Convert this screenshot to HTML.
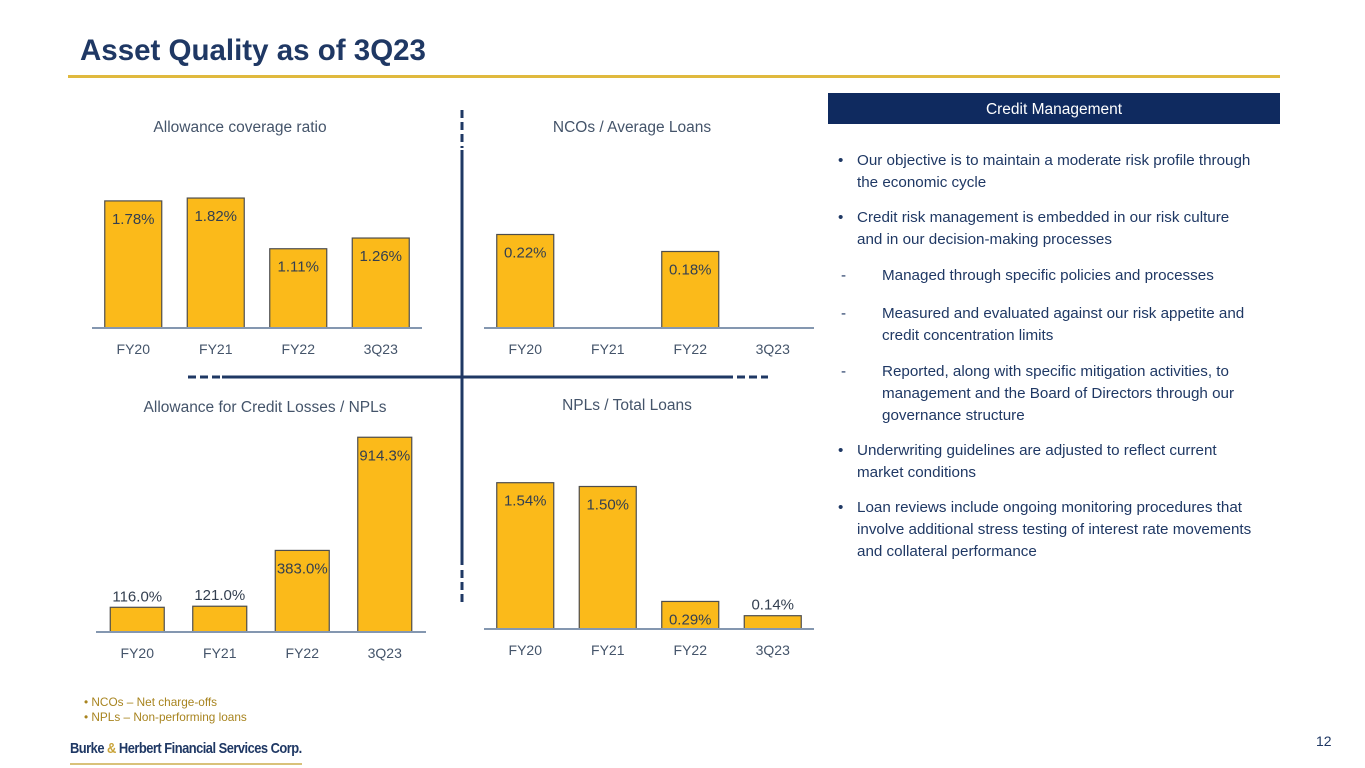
<!DOCTYPE html>
<html><head><meta charset="utf-8">
<style>
body{margin:0;width:1365px;height:768px;overflow:hidden;background:#fff;font-family:"Liberation Sans",sans-serif;position:relative}
.t{position:absolute;white-space:nowrap}
.b{position:absolute;left:857px;font-size:15.2px;color:#1f3864;line-height:22px;letter-spacing:0px;white-space:nowrap}
.dot{position:absolute;left:-19px}
.dash{position:absolute;left:-19px}
</style></head><body>
<div class="t" style="left:80px;top:34px;font-size:29.5px;font-weight:bold;color:#1f3864">Asset Quality as of 3Q23</div>
<div style="position:absolute;left:68px;top:75px;width:1212px;height:3px;background:#e0b93e"></div>

<svg width="1365" height="768" style="position:absolute;left:0;top:0">
<g stroke="#1f3864" stroke-width="3">
<line x1="462" y1="150" x2="462" y2="565"/>
<line x1="462" y1="110" x2="462" y2="148" stroke-dasharray="8,4"/>
<line x1="462" y1="570" x2="462" y2="605" stroke-dasharray="8,4"/>
<line x1="222" y1="377" x2="733" y2="377"/>
<line x1="188" y1="377" x2="220" y2="377" stroke-dasharray="8,4"/>
<line x1="737" y1="377" x2="768" y2="377" stroke-dasharray="8,4"/>
</g>
<g id="charts"></g>
</svg>

<div style="position:absolute;left:828px;top:93px;width:452px;height:31px;background:#0f2a5f;color:#fff;font-size:15.5px;text-align:center;line-height:33px">Credit Management</div>

<div class="b" style="top:150px"><span class="dot">•</span>Our objective is to maintain a moderate risk profile through<br>the economic cycle</div>
<div class="b" style="top:207px"><span class="dot">•</span>Credit risk management is embedded in our risk culture<br>and in our decision-making processes</div>
<div class="b" style="top:265px;left:882px"><span class="dash" style="left:-41px">-</span>Managed through specific policies and processes</div>
<div class="b" style="top:303px;left:882px"><span class="dash" style="left:-41px">-</span>Measured and evaluated against our risk appetite and<br>credit concentration limits</div>
<div class="b" style="top:361px;left:882px"><span class="dash" style="left:-41px">-</span>Reported, along with specific mitigation activities, to<br>management and the Board of Directors through our<br>governance structure</div>
<div class="b" style="top:440px"><span class="dot">•</span>Underwriting guidelines are adjusted to reflect current<br>market conditions</div>
<div class="b" style="top:497px"><span class="dot">•</span>Loan reviews include ongoing monitoring procedures that<br>involve additional stress testing of interest rate movements<br>and collateral performance</div>

<div class="t" style="left:84px;top:695px;font-size:11.8px;color:#a8841f">• NCOs – Net charge-offs</div>
<div class="t" style="left:84px;top:710px;font-size:11.8px;color:#a8841f">• NPLs – Non-performing loans</div>
<div class="t" style="left:70px;top:740px;font-size:15px;font-weight:bold;color:#1f3864;letter-spacing:-0.6px;transform:scaleX(0.86);transform-origin:left top">Burke <span style="color:#c9a43a">&amp;</span> Herbert Financial Services Corp.</div>
<div style="position:absolute;left:70px;top:763px;width:232px;height:2px;background:#d9c27a"></div>
<div class="t" style="left:1316px;top:733px;font-size:14px;color:#1f3864">12</div>

<script>
const categories = ["FY20","FY21","FY22","3Q23"];
const allowanceValues = [1.78,1.82,1.11,1.26];
const allowanceLabels = ["1.78%","1.82%","1.11%","1.26%"];
const ncoValues = [0.22,0,0.18,0];
const ncoLabels = ["0.22%","","0.18%",""];
const aclNplValues = [116.0,121.0,383.0,914.3];
const aclNplLabels = ["116.0%","121.0%","383.0%","914.3%"];
const nplValues = [1.54,1.50,0.29,0.14];
const nplLabels = ["1.54%","1.50%","0.29%","0.14%"];

const NS="http://www.w3.org/2000/svg";
const root=document.getElementById('charts');
function mk(tag,attrs,parent){const e=document.createElementNS(NS,tag);for(const k in attrs)e.setAttribute(k,attrs[k]);parent.appendChild(e);return e;}

function chart(cfg){
  const g=mk('g',{},root);
  
  
  const title=mk('text',{x:cfg.tx,y:cfg.ty,'text-anchor':'middle','font-size':15.5,fill:'#44546a'},g);
  title.textContent=cfg.title;
  
  
  const step=(cfg.x1-cfg.x0)/categories.length;
  const y=v=>cfg.base - v*cfg.scale;
  cfg.values.forEach((v,i)=>{
    const cx=cfg.x0+step*(i+0.5);
    const bw=cfg.bw;
    const h=cfg.base-y(v);
    if(v>0){
      const r=mk('rect',{x:cx-bw/2,y:y(v),width:bw,height:h,fill:'#fbba1a',stroke:'#4d4d4d','stroke-width':1.2},g);
      
      
    }
    if(cfg.labels[i]){
      const inside=h>26;
      const lt=mk('text',{x:cx,y:inside?y(v)+23:y(v)-6,'text-anchor':'middle','font-size':15,fill:'#333f50'},g);
      lt.textContent=cfg.labels[i];
      
      
    }
    const ct=mk('text',{x:cx,y:cfg.base+26,'text-anchor':'middle','font-size':14,fill:'#44546a'},g);
    ct.textContent=categories[i];
    
    
  });
  const ax=mk('line',{x1:cfg.x0,y1:cfg.base,x2:cfg.x1,y2:cfg.base,stroke:'#8497b0','stroke-width':2},g);
  
  
}
chart({name:'allowance-coverage-chart',title:'Allowance coverage ratio',tx:240,ty:132,x0:92,x1:422,base:328,scale:71.4,bw:57,values:allowanceValues,labels:allowanceLabels});
chart({name:'nco-average-loans-chart',title:'NCOs / Average Loans',tx:632,ty:132,x0:484,x1:814,base:328,scale:425,bw:57,values:ncoValues,labels:ncoLabels});
chart({name:'acl-npl-chart',title:'Allowance for Credit Losses / NPLs',tx:265,ty:412,x0:96,x1:426,base:632,scale:0.213,bw:54,values:aclNplValues,labels:aclNplLabels});
chart({name:'npl-total-loans-chart',title:'NPLs / Total Loans',tx:627,ty:410,x0:484,x1:814,base:629,scale:95,bw:57,values:nplValues,labels:nplLabels});
</script>
</body></html>
